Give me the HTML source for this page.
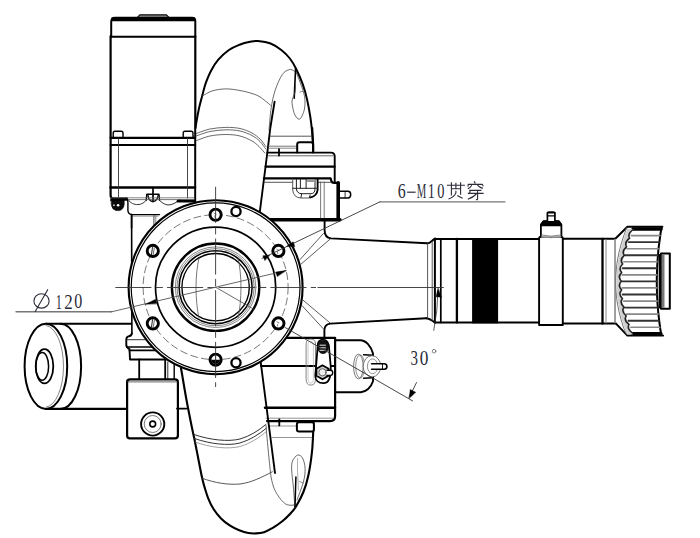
<!DOCTYPE html>
<html><head><meta charset="utf-8"><style>
html,body{margin:0;padding:0;background:#fff;}
svg{display:block;}
</style></head><body>
<svg width="700" height="538" viewBox="0 0 700 538" stroke-linecap="round" stroke-linejoin="round">
<rect width="700" height="538" fill="#fff"/>
<path d="M137,17.8 L139.8,14.9 L166.5,14.9 L169.3,17.8 Z" stroke="#000" stroke-width="1.1" fill="#9a9a9a" />
<path d="M111.2,37 L111.2,22 Q111.2,17.8 115,17.8 L192,17.8 Q195.3,17.8 195.3,21 L195.3,37" stroke="#000" stroke-width="2.0" fill="none" />
<line x1="111.5" y1="19.3" x2="195" y2="19.3" stroke="#000" stroke-width="3.8" stroke-linecap="butt"/>
<path d="M110.6,36 L110.6,195 Q110.6,198.4 113,198.4 L126.7,198.4" stroke="#000" stroke-width="2.2" fill="none" />
<line x1="195.3" y1="36" x2="195.3" y2="201.5" stroke="#000" stroke-width="2.2" />
<line x1="111" y1="36.8" x2="195" y2="36.8" stroke="#000" stroke-width="1.9" />
<path d="M113.2,137 L113.2,133 Q113.2,131.2 115,131.2 L121.2,131.2 Q123,131.2 123,133 L123,137" stroke="#000" stroke-width="1.4" fill="#fff" />
<path d="M183.2,137 L183.2,133 Q183.2,131.2 185,131.2 L191.2,131.2 Q193,131.2 193,133 L193,137" stroke="#000" stroke-width="1.4" fill="#fff" />
<line x1="110.6" y1="137.8" x2="195.3" y2="137.8" stroke="#000" stroke-width="2.3" />
<line x1="110.6" y1="145" x2="195.3" y2="145" stroke="#000" stroke-width="2.0" />
<line x1="110.6" y1="187.5" x2="195.3" y2="187.5" stroke="#000" stroke-width="2.7" />
<line x1="118.5" y1="138" x2="118.5" y2="198" stroke="#333" stroke-width="0.9" />
<line x1="187.5" y1="138" x2="187.5" y2="198" stroke="#333" stroke-width="0.9" />
<line x1="153" y1="187.5" x2="153" y2="201.4" stroke="#000" stroke-width="1.7" />
<path d="M146.2,200.3 L146.8,194.3 L159,194.3 L159.5,200.3" stroke="#000" stroke-width="1.4" fill="none" />
<path d="M147.9,195.2 C148.5,199.5 150.5,201.6 153,201.6 C155.5,201.6 157.5,199.5 158.2,195.2" stroke="#000" stroke-width="1.3" fill="none" />
<path d="M127.9,199.5 C131,203.5 134,204.6 138,204.6 C141.5,204.5 144.5,202.5 146.2,200.3" stroke="#333" stroke-width="1.0" fill="none" />
<path d="M159.5,200.3 C161.5,202.5 164.5,204.6 168,205 C172,205 176,203 180,199.5" stroke="#333" stroke-width="1.0" fill="none" />
<line x1="111" y1="197.8" x2="194" y2="197.8" stroke="#666" stroke-width="0.8" />
<line x1="127" y1="199.6" x2="194" y2="199.6" stroke="#555" stroke-width="0.8" />
<path d="M126.7,198.4 Q127.9,199.5 127.9,202.3 L127.9,210.7 Q128.5,214.4 131.6,214.6 L159.5,214.6" stroke="#000" stroke-width="1.4" fill="none" />
<line x1="131.6" y1="214.6" x2="131.6" y2="228" stroke="#000" stroke-width="1.6" />
<line x1="153.9" y1="215.3" x2="153.9" y2="226" stroke="#333" stroke-width="0.9" />
<line x1="155.8" y1="215.5" x2="155.8" y2="224" stroke="#666" stroke-width="0.8" />
<line x1="132" y1="216.2" x2="158" y2="216.2" stroke="#777" stroke-width="0.7" />
<path d="M178,201.2 L195.3,201.2" stroke="#000" stroke-width="2.8" fill="none" />
<path d="M111.2,199.6 L124.2,199.6 L124.2,204.5 Q123.5,209.6 119.5,210.6 L116,210.6 Q112,209.6 111.4,205 Z" stroke="#000" stroke-width="0.6" fill="#0a0a0a" />
<circle cx="113.9" cy="205.3" r="1.0" stroke="#000" stroke-width="0" fill="#bbb" />
<circle cx="118.1" cy="205.3" r="1.3" stroke="#000" stroke-width="0" fill="#fff" />
<line x1="111" y1="199.9" x2="126.5" y2="199.9" stroke="#000" stroke-width="1.8" />
<path d="M196.5,205.0 C196.5,192.2 196.6,141.6 196.5,128.0 C196.4,114.4 195.8,126.5 196.2,123.4 C196.6,120.3 197.8,113.9 198.8,109.2 C199.8,104.5 201.2,99.5 202.4,95.1 C203.6,90.7 204.4,86.8 205.9,82.7 C207.4,78.6 209.1,74.2 211.2,70.4 C213.3,66.6 215.4,63.1 218.3,59.7 C221.2,56.3 225.4,52.5 228.9,50.0 C232.4,47.5 236.0,46.1 239.5,44.7 C243.0,43.3 247.0,42.3 250.1,41.7 C253.2,41.1 254.4,40.7 257.8,41.0 C261.2,41.3 266.7,42.0 270.6,43.5 C274.5,45.0 278.1,47.5 281.3,50.0 C284.5,52.5 287.4,55.3 289.9,58.5 C292.4,61.7 294.2,64.9 296.3,69.2 C298.4,73.5 300.9,79.1 302.7,84.1 C304.5,89.1 305.8,93.8 307.0,99.1 C308.2,104.4 309.3,110.5 310.2,116.2 C311.1,121.9 311.8,128.7 312.3,133.3 C312.8,137.9 313.0,140.9 313.2,144.0 C313.4,147.1 313.3,150.7 313.3,152.0 L260,212 Z" stroke="#000" stroke-width="0" fill="#fff" />
<path d="M195.6,128.0 C195.7,127.2 195.7,126.5 196.2,123.4 C196.7,120.3 197.8,113.9 198.8,109.2 C199.8,104.5 201.2,99.5 202.4,95.1 C203.6,90.7 204.4,86.8 205.9,82.7 C207.4,78.6 209.1,74.2 211.2,70.4 C213.3,66.6 215.4,63.1 218.3,59.7 C221.2,56.3 225.4,52.5 228.9,50.0 C232.4,47.5 236.0,46.1 239.5,44.7 C243.0,43.3 247.0,42.3 250.1,41.7 C253.2,41.1 254.4,40.7 257.8,41.0 C261.2,41.3 266.7,42.0 270.6,43.5 C274.5,45.0 278.1,47.5 281.3,50.0 C284.5,52.5 287.4,55.3 289.9,58.5 C292.4,61.7 294.2,64.9 296.3,69.2 C298.4,73.5 300.9,79.1 302.7,84.1 C304.5,89.1 305.8,93.8 307.0,99.1 C308.2,104.4 309.3,110.5 310.2,116.2 C311.1,121.9 311.8,128.7 312.3,133.3 C312.8,137.9 313.0,140.9 313.2,144.0 C313.4,147.1 313.3,150.7 313.3,152.0" stroke="#000" stroke-width="2.0" fill="none" />
<path d="M259.8,212 L267.4,152 L270.3,128 L274.6,101.7" stroke="#000" stroke-width="1.9" fill="none" />
<path d="M269.0,130.0 C269.4,126.3 270.1,114.7 271.2,108.0 C272.2,101.3 273.4,95.5 275.3,89.9 C277.2,84.3 280.0,77.9 282.3,74.5 C284.6,71.1 287.3,70.2 289.3,69.6 C291.3,69.0 293.0,70.4 294.2,71.0 C295.4,71.6 296.1,72.7 296.5,73.0" stroke="#444" stroke-width="0.8" fill="none" />
<line x1="295.6" y1="68.2" x2="294.2" y2="98.2" stroke="#000" stroke-width="1.6" />
<path d="M296.5,73.0 C297.1,74.7 299.0,79.0 300.4,83.0 C301.8,87.0 303.9,92.6 304.6,96.8 C305.3,101.0 305.0,104.8 304.6,108.0 C304.2,111.2 302.9,114.1 302.0,116.0 C301.1,117.9 300.1,119.2 299.0,119.2 C297.9,119.2 296.4,117.4 295.5,116.0 C294.6,114.6 294.1,113.3 293.5,110.8 C292.9,108.3 291.8,104.0 292.0,101.0 C292.2,98.0 294.3,95.4 294.9,92.7 C295.5,90.0 295.4,86.3 295.5,85.0" stroke="#444" stroke-width="0.8" fill="none" />
<line x1="299.7" y1="92" x2="303.2" y2="91.3" stroke="#666" stroke-width="0.7" />
<path d="M202.4,96.0 C204.0,95.2 208.2,92.2 212.0,91.0 C215.8,89.8 220.7,89.0 225.4,88.9 C230.1,88.8 235.6,89.7 240.0,90.5 C244.4,91.3 248.7,92.4 252.0,93.5 C255.3,94.6 256.9,95.0 260.0,96.9 C263.1,98.9 268.8,103.8 270.5,105.2" stroke="#444" stroke-width="0.8" fill="none" />
<path d="M196.2,133.5 C198.5,132.8 205.1,130.0 210.0,129.0 C214.9,128.0 220.9,127.5 225.9,127.4 C230.9,127.3 235.7,127.6 240.0,128.5 C244.3,129.4 248.7,131.2 252.0,133.0 C255.3,134.8 257.7,136.8 260.0,139.0 C262.3,141.2 264.8,145.2 265.8,146.5" stroke="#444" stroke-width="0.8" fill="none" />
<path d="M196.2,136.0 C198.5,135.2 205.1,132.5 210.0,131.5 C214.9,130.5 220.9,129.9 225.9,129.8 C230.9,129.7 235.7,130.1 240.0,131.0 C244.3,131.9 248.7,133.8 252.0,135.5 C255.3,137.2 257.7,139.2 260.0,141.5 C262.3,143.8 264.8,147.8 265.8,149.0" stroke="#444" stroke-width="0.8" fill="none" />
<path d="M196.2,140.7 C198.5,139.9 205.1,137.0 210.0,136.0 C214.9,135.0 220.9,134.5 225.9,134.5 C230.9,134.5 235.7,134.9 240.0,136.0 C244.3,137.1 248.8,139.2 252.0,141.0 C255.2,142.8 256.9,144.5 259.0,146.5 C261.1,148.5 263.8,151.9 264.8,153.0" stroke="#444" stroke-width="0.8" fill="none" />
<line x1="312.3" y1="128" x2="313" y2="152" stroke="#000" stroke-width="2.0" />
<line x1="270.5" y1="136.2" x2="311.5" y2="136.2" stroke="#444" stroke-width="0.9" />
<line x1="268.5" y1="146.2" x2="297" y2="146.2" stroke="#555" stroke-width="0.8" />
<line x1="268.5" y1="148.2" x2="297" y2="148.2" stroke="#666" stroke-width="0.8" />
<path d="M297.2,152.6 L297.2,144.5 Q297.2,142.2 299.5,142.2 L310.8,142.2 Q313,142.2 313,144.5 L313,152.6" stroke="#000" stroke-width="2.0" fill="#fff" />
<path d="M267.4,152.6 L331,152.6 Q334.7,152.6 334.7,156.5 L334.7,182.8" stroke="#000" stroke-width="1.9" fill="none" />
<line x1="268" y1="155.8" x2="333" y2="155.8" stroke="#444" stroke-width="0.8" />
<line x1="279" y1="149.2" x2="279" y2="155.5" stroke="#000" stroke-width="1.8" />
<line x1="265.6" y1="166.6" x2="334.7" y2="166.6" stroke="#000" stroke-width="2.2" />
<path d="M263.9,178.4 L330.6,178.4 L331.5,181.5 Q332,182.8 334,182.8 L337,182.8" stroke="#000" stroke-width="2.2" fill="none" />
<line x1="338.2" y1="182.8" x2="338.2" y2="219.1" stroke="#000" stroke-width="3.6" />
<line x1="266" y1="219.8" x2="340" y2="219.8" stroke="#000" stroke-width="3.4" />
<line x1="264.5" y1="182.3" x2="292.7" y2="182.3" stroke="#444" stroke-width="0.9" />
<line x1="317.6" y1="182.3" x2="331" y2="182.3" stroke="#444" stroke-width="0.9" />
<path d="M292.7,179 L292.7,190 Q293.5,197.8 301,198 L309,198 Q316.5,197.5 317.6,190 L317.6,179" stroke="#555" stroke-width="1.0" fill="none" />
<path d="M317.6,179 L317.6,190 Q317,196 310.5,197.3" stroke="#000" stroke-width="1.8" fill="none" />
<path d="M296.4,179.5 L296.4,189 Q297,193.7 302,193.7 L311,193.7 Q315,193.5 315,189 L315,179.5" stroke="#222" stroke-width="1.0" fill="none" />
<line x1="292.7" y1="188.3" x2="317.6" y2="188.3" stroke="#222" stroke-width="1.0" />
<line x1="300.4" y1="179" x2="300.4" y2="188.3" stroke="#222" stroke-width="1.0" />
<line x1="306.1" y1="179" x2="306.1" y2="188.3" stroke="#222" stroke-width="1.0" />
<line x1="301.6" y1="194" x2="301" y2="197.4" stroke="#222" stroke-width="1.0" />
<line x1="310.1" y1="195.1" x2="309.4" y2="197.6" stroke="#222" stroke-width="1.0" />
<rect x="307" y="179.5" width="8" height="2.5" rx="0" stroke="#000" stroke-width="0" fill="#999" />
<line x1="320.6" y1="182" x2="320.6" y2="218" stroke="#555" stroke-width="0.8" />
<line x1="324.2" y1="182" x2="324.2" y2="218" stroke="#555" stroke-width="0.8" />
<path d="M340.1,191.2 L348,191.2 Q350.7,191.2 350.7,194.5 Q350.7,197.9 348,197.9 L340.1,197.9" stroke="#000" stroke-width="1.5" fill="#fff" />
<line x1="345.1" y1="191.5" x2="345.1" y2="197.6" stroke="#000" stroke-width="0.8" />
<path d="M324.6,219.5 L324.6,230 C324.6,235 327,238 331,238.4 L427,243.2" stroke="#000" stroke-width="1.9" fill="none" />
<path d="M324.4,337 L324.4,330.3 C324.4,326 326,324 330.5,323.6 L426.3,318.3" stroke="#000" stroke-width="1.9" fill="none" />
<line x1="323.5" y1="233.4" x2="300" y2="259.6" stroke="#333" stroke-width="0.8" />
<line x1="330.2" y1="239" x2="301.2" y2="264" stroke="#333" stroke-width="0.8" />
<line x1="303" y1="300.1" x2="330" y2="322.9" stroke="#333" stroke-width="0.8" />
<line x1="302.1" y1="305.7" x2="323.9" y2="329.4" stroke="#333" stroke-width="0.8" />
<path d="M427.4,243.4 C430.5,243.2 432,240 435.3,238.4" stroke="#000" stroke-width="1.9" fill="none" />
<path d="M426.3,318.3 C430.5,318.5 432,321 435.3,322.6" stroke="#000" stroke-width="1.9" fill="none" />
<line x1="427.6" y1="243.5" x2="427.6" y2="318.2" stroke="#444" stroke-width="0.9" />
<line x1="432.2" y1="241.5" x2="432.2" y2="320.5" stroke="#444" stroke-width="0.9" />
<path d="M434.9,322.4 L434.9,238.9 L539,238.9" stroke="#000" stroke-width="2.0" fill="none" />
<line x1="434.9" y1="322.4" x2="539" y2="322.4" stroke="#000" stroke-width="2.0" />
<line x1="440.8" y1="239" x2="440.8" y2="322.4" stroke="#000" stroke-width="1.7" />
<line x1="456.9" y1="239" x2="456.9" y2="322.4" stroke="#000" stroke-width="2.3" />
<rect x="472.1" y="238" width="26" height="85.3" rx="0" stroke="#000" stroke-width="0" fill="#000" />
<path d="M539.1,325 L539.1,238.4 Q539.1,236.6 541,236.6 L560.8,236.6 Q562.8,236.6 562.8,238.6 L562.8,325 Z" stroke="#000" stroke-width="1.9" fill="#fff" />
<path d="M540.9,236.8 L540.9,224.5 L543.4,221.2 L558.9,221.2 L561.4,224.5 L561.4,236.8" stroke="#000" stroke-width="1.8" fill="#fff" />
<path d="M541.2,225.6 L541.2,224.3 L543.6,221.2 L558.7,221.2 L561.1,224.3 L561.1,225.6 Z" stroke="#000" stroke-width="1.2" fill="#000" />
<path d="M541.5,235 Q551,237.5 561,235" stroke="#666" stroke-width="0.8" fill="none" />
<path d="M541.5,236.6 Q551,239 561,236.6" stroke="#888" stroke-width="0.8" fill="none" />
<path d="M547.4,221 L547.4,213.5 Q547.4,212 549,212 L553.3,212 Q554.9,212 554.9,213.5 L554.9,221" stroke="#000" stroke-width="1.7" fill="#fff" />
<line x1="547.4" y1="212.8" x2="554.9" y2="212.8" stroke="#000" stroke-width="1.6" />
<line x1="547.4" y1="215.8" x2="554.9" y2="215.8" stroke="#000" stroke-width="1.3" />
<path d="M562.8,238.8 L615.3,238.8 M562.8,323.6 L615.3,323.6" stroke="#000" stroke-width="2.0" fill="none" />
<line x1="602.5" y1="239" x2="602.5" y2="323.6" stroke="#000" stroke-width="2.3" />
<line x1="606" y1="239.5" x2="606" y2="323" stroke="#888" stroke-width="1.0" />
<line x1="615" y1="239.5" x2="615" y2="323" stroke="#999" stroke-width="1.5" />
<path d="M615.3,238.7 L627.4,226.7 L662.4,226.7 L661.6,227.0 L661.1,230.0 L660.6,233.0 L660.2,236.0 L659.8,239.0 L659.4,242.0 L659.0,245.0 L658.6,248.0 L658.3,251.0 L658.1,254.0 L657.8,257.0 L657.6,260.0 L657.4,263.0 L657.2,266.0 L657.1,269.0 L657.0,272.0 L656.9,275.0 L656.8,278.0 L656.8,281.0 L656.8,284.0 L656.8,287.0 L656.9,290.0 L657.0,293.0 L657.1,296.0 L657.3,299.0 L657.4,302.0 L657.6,305.0 L657.9,308.0 L658.1,311.0 L658.4,314.0 L658.8,317.0 L659.1,320.0 L659.5,323.0 L659.9,326.0 L660.3,329.0 L660.8,332.0 L661.3,335.0 L663,335.6 L627.4,335.6 L615.3,322.9 Z" stroke="#000" stroke-width="0" fill="#fff" />
<path d="M615.3,238.7 L627.4,226.7 L662.4,226.7 L661.6,227.0 L661.1,230.0 L660.6,233.0 L660.2,236.0 L659.8,239.0 L659.4,242.0 L659.0,245.0 L658.6,248.0 L658.3,251.0 L658.1,254.0 L657.8,257.0 L657.6,260.0 L657.4,263.0 L657.2,266.0 L657.1,269.0 L657.0,272.0 L656.9,275.0 L656.8,278.0 L656.8,281.0 L656.8,284.0 L656.8,287.0 L656.9,290.0 L657.0,293.0 L657.1,296.0 L657.3,299.0 L657.4,302.0 L657.6,305.0 L657.9,308.0 L658.1,311.0 L658.4,314.0 L658.8,317.0 L659.1,320.0 L659.5,323.0 L659.9,326.0 L660.3,329.0 L660.8,332.0 L661.3,335.0 L663,335.6 L627.4,335.6 L615.3,322.9" stroke="#000" stroke-width="2.0" fill="none" />
<line x1="615.2" y1="239.5" x2="615.2" y2="322.5" stroke="#999" stroke-width="1.5" />
<path d="M626.5,228 L625.2,232.0 L623.7,236.0 L622.4,240.0 L621.2,244.0 L620.1,248.0 L619.1,252.0 L618.3,256.0 L617.5,260.0 L616.9,264.0 L616.4,268.0 L616.1,272.0 L615.8,276.0 L615.7,280.0 L615.7,284.0 L615.8,288.0 L616.1,292.0 L616.4,296.0 L616.9,300.0 L617.5,304.0 L618.3,308.0 L619.1,312.0 L620.1,316.0 L621.2,320.0 L622.4,324.0 L623.7,328.0 L626.5,334" stroke="#777" stroke-width="1.0" fill="none" />
<line x1="633.1" y1="229.0" x2="661.0" y2="229.0" stroke="#000" stroke-width="3.6" />
<line x1="631.3" y1="235.6" x2="660.0" y2="235.6" stroke="#888" stroke-width="1.6" />
<line x1="628.8" y1="242.1" x2="659.0" y2="242.1" stroke="#333" stroke-width="1.9" />
<line x1="626.8" y1="248.7" x2="658.3" y2="248.7" stroke="#888" stroke-width="1.6" />
<line x1="625.1" y1="255.2" x2="657.6" y2="255.2" stroke="#333" stroke-width="1.9" />
<line x1="623.8" y1="261.8" x2="657.2" y2="261.8" stroke="#888" stroke-width="1.6" />
<line x1="622.8" y1="268.3" x2="656.8" y2="268.3" stroke="#333" stroke-width="1.9" />
<line x1="622.2" y1="274.9" x2="656.6" y2="274.9" stroke="#888" stroke-width="1.6" />
<line x1="622.0" y1="281.4" x2="656.5" y2="281.4" stroke="#333" stroke-width="1.9" />
<line x1="622.2" y1="287.9" x2="656.6" y2="287.9" stroke="#888" stroke-width="1.6" />
<line x1="622.7" y1="294.5" x2="656.8" y2="294.5" stroke="#333" stroke-width="1.9" />
<line x1="623.6" y1="301.1" x2="657.1" y2="301.1" stroke="#888" stroke-width="1.6" />
<line x1="624.8" y1="307.6" x2="657.5" y2="307.6" stroke="#333" stroke-width="1.9" />
<line x1="626.4" y1="314.1" x2="658.2" y2="314.1" stroke="#888" stroke-width="1.6" />
<line x1="628.4" y1="320.7" x2="658.9" y2="320.7" stroke="#333" stroke-width="1.9" />
<line x1="630.8" y1="327.2" x2="659.8" y2="327.2" stroke="#888" stroke-width="1.6" />
<line x1="632.5" y1="333.8" x2="660.8" y2="333.8" stroke="#000" stroke-width="3.6" />
<path d="M627.2,229.0 L626.0,232.0 L624.9,235.0 L623.9,238.0 L622.9,241.0 L622.0,244.0 L621.2,247.0 L620.4,250.0 L619.7,253.0 L619.1,256.0 L618.5,259.0 L618.0,262.0 L617.6,265.0 L617.2,268.0 L617.0,271.0 L616.7,274.0 L616.6,277.0 L616.5,280.0 L616.5,283.0 L616.6,286.0 L616.7,289.0 L616.9,292.0 L617.1,295.0 L617.5,298.0 L617.9,301.0 L618.3,304.0 L618.9,307.0 L619.5,310.0 L620.2,313.0 L620.9,316.0 L621.7,319.0 L622.6,322.0 L623.5,325.0 L624.5,328.0 L625.6,331.0 L626.8,334.0 L627.0,334.5 L632.9,334.5 L632.6,334.0 L631.3,331.0 L630.1,328.0 L629.0,325.0 L627.9,322.0 L626.9,319.0 L626.0,316.0 L625.1,313.0 L624.4,310.0 L623.7,307.0 L623.1,304.0 L622.6,301.0 L622.1,298.0 L621.7,295.0 L621.4,292.0 L621.2,289.0 L621.1,286.0 L621.0,283.0 L621.0,280.0 L621.1,277.0 L621.3,274.0 L621.5,271.0 L621.8,268.0 L622.2,265.0 L622.7,262.0 L623.3,259.0 L623.9,256.0 L624.6,253.0 L625.4,250.0 L626.3,247.0 L627.2,244.0 L628.2,241.0 L629.3,238.0 L630.5,235.0 L631.8,232.0 L633.1,229.0 Z" stroke="#000" stroke-width="0" fill="#cfcfcf" />
<path d="M633.2,229.5 Q627.1,233.8 629.6,238.1 M629.6,238.1 Q623.8,242.4 626.6,246.8 M626.6,246.8 Q621.2,251.1 624.3,255.4 M624.3,255.4 Q619.2,259.7 622.7,264.0 M622.7,264.0 Q617.9,268.3 621.7,272.6 M621.7,272.6 Q617.2,276.9 621.3,281.2 M621.3,281.2 Q617.2,285.6 621.6,289.9 M621.6,289.9 Q617.7,294.2 622.5,298.5 M622.5,298.5 Q619.0,302.8 624.0,307.1 M624.0,307.1 Q620.8,311.4 626.2,315.8 M626.2,315.8 Q623.3,320.1 629.0,324.4 M629.0,324.4 Q626.5,328.7 632.5,333.0" stroke="#222" stroke-width="1.5" fill="none" />
<rect x="661" y="253.5" width="8.8" height="55.3" rx="0" stroke="#000" stroke-width="2.0" fill="#fff" />
<rect x="661.5" y="254.5" width="3" height="53.3" rx="0" stroke="#000" stroke-width="0" fill="#777" />
<line x1="659.8" y1="255" x2="659.8" y2="307.5" stroke="#000" stroke-width="2.2" />
<line x1="45.9" y1="323.8" x2="131" y2="323.8" stroke="#000" stroke-width="2.1" />
<line x1="45.9" y1="408.9" x2="128" y2="408.9" stroke="#000" stroke-width="2.1" />
<path d="M60.5,323.8 A20.6,42.6 0 0 1 60.5,409" stroke="#000" stroke-width="2.0" fill="none" />
<ellipse cx="45.9" cy="366.3" rx="21.3" ry="42.6" stroke="#000" stroke-width="2.0" fill="#fff" />
<path d="M46,325.5 A18.4,40.9 0 0 1 46,407.2" stroke="#666" stroke-width="0.8" fill="none" />
<ellipse cx="44.5" cy="366.3" rx="8.8" ry="17.1" stroke="#000" stroke-width="1.8" fill="none" />
<ellipse cx="42.2" cy="366.4" rx="6.4" ry="13.8" stroke="#000" stroke-width="1.5" fill="none" />
<line x1="131.6" y1="214.6" x2="131.9" y2="334" stroke="#000" stroke-width="1.6" />
<path d="M131.9,333.5 Q131.5,335.8 128.5,336.4 Q126.3,337 126.3,340 L126.3,345 Q126.3,347.6 129.5,349.2 L130,359.5 L166,359.5" stroke="#000" stroke-width="1.9" fill="#fff" />
<line x1="127.5" y1="339.7" x2="165" y2="339.7" stroke="#333" stroke-width="1.0" />
<line x1="127.5" y1="347" x2="165" y2="347" stroke="#000" stroke-width="1.4" />
<line x1="129.5" y1="350.4" x2="165" y2="350.4" stroke="#000" stroke-width="1.8" />
<line x1="139.2" y1="359.5" x2="139.2" y2="379" stroke="#000" stroke-width="1.8" />
<line x1="165.2" y1="359.5" x2="165.2" y2="379" stroke="#000" stroke-width="1.8" />
<line x1="167.8" y1="362" x2="167.8" y2="379" stroke="#333" stroke-width="1.0" />
<line x1="174.2" y1="362" x2="174.2" y2="379" stroke="#000" stroke-width="1.4" />
<path d="M127.1,382 Q127.1,379.4 130,379.4 L175,379.4 Q177.9,379.4 177.9,382 L177.9,435.5 Q177.9,438.4 175,438.4 L130,438.4 Q127.1,438.4 127.1,435.5 Z" stroke="#000" stroke-width="2.2" fill="#fff" />
<line x1="128" y1="381.9" x2="177" y2="381.9" stroke="#555" stroke-width="0.9" />
<circle cx="152.7" cy="424" r="11.6" stroke="#000" stroke-width="1.9" fill="none" />
<circle cx="152.7" cy="424" r="8.5" stroke="#555" stroke-width="0.8" fill="none" />
<circle cx="152.7" cy="424" r="2.9" stroke="#000" stroke-width="1.6" fill="none" />
<line x1="177" y1="408.6" x2="186.4" y2="408.6" stroke="#000" stroke-width="1.8" />
<path d="M181.0,368.0 C181.9,373.3 184.8,390.8 186.5,400.0 C188.2,409.2 189.7,416.3 191.0,423.0 C192.3,429.7 193.4,434.1 194.6,440.0 C195.8,445.9 197.0,452.1 198.2,458.2 C199.4,464.3 200.7,471.6 201.8,476.5 C202.9,481.4 203.5,483.8 204.6,487.4 C205.7,491.0 206.7,494.6 208.2,498.3 C209.7,502.0 211.6,506.0 213.7,509.3 C215.8,512.6 218.3,515.7 221.0,518.4 C223.7,521.1 227.1,523.7 230.1,525.7 C233.1,527.7 236.2,529.0 239.2,530.2 C242.2,531.4 245.5,532.5 248.3,533.0 C251.1,533.5 253.4,533.5 256.0,533.4 C258.6,533.3 261.3,533.1 264.0,532.2 C266.7,531.4 268.9,530.1 272.0,528.3 C275.1,526.5 279.3,523.6 282.3,521.2 C285.3,518.8 287.7,516.5 290.0,514.0 C292.3,511.6 293.8,510.2 296.0,506.5 C298.2,502.8 301.3,497.2 303.4,492.0 C305.5,486.8 307.0,481.6 308.4,475.2 C309.8,468.8 311.1,459.6 311.8,453.5 C312.6,447.4 312.6,443.6 312.9,438.5 C313.2,433.4 313.4,425.6 313.5,423.0" stroke="#000" stroke-width="2.1" fill="#fff" />
<path d="M266,425.6 C268,450 270,468 271,477 C273,487 275,491 277.6,494.9 C280,499 283,502 285.3,503.8 C288,505.5 291,505.5 294.2,505" stroke="#444" stroke-width="0.8" fill="none" />
<path d="M194.2,434.6 C210,440 228,442 240,439 C250,436 258,431 266,424.4" stroke="#333" stroke-width="1.0" fill="none" />
<path d="M194.5,438.5 C210,444 228,446 240,443 C250,440 258,435 266.3,428.3" stroke="#333" stroke-width="1.0" fill="none" />
<path d="M195,442 C210,447.5 228,449.5 240,446.5 C250,443.5 258,438.5 266.5,431.5" stroke="#777" stroke-width="0.7" fill="none" />
<path d="M202,478.2 C215,483 228,485 240,484 C252,482.5 262,477 272.4,471.8" stroke="#444" stroke-width="0.9" fill="none" />
<path d="M295.0,508.0 C294.7,504.5 293.9,493.3 293.4,487.0 C292.8,480.7 291.8,474.3 291.7,470.0 C291.6,465.7 291.5,463.5 292.5,461.0 C293.5,458.5 295.9,455.6 297.6,455.1 C299.3,454.6 301.2,455.8 302.5,458.0 C303.8,460.2 305.0,464.5 305.1,468.5 C305.2,472.5 304.8,476.8 303.4,482.0 C302.0,487.2 298.1,497.0 297.0,500.0" stroke="#444" stroke-width="0.8" fill="none" />
<path d="M297.6,458.5 C297.6,460.4 297.4,466.4 297.5,470.0 C297.6,473.6 297.9,476.7 298.0,480.0 C298.1,483.3 298.3,488.3 298.4,490.0" stroke="#777" stroke-width="0.6" fill="none" />
<line x1="295.9" y1="477" x2="295" y2="507" stroke="#000" stroke-width="1.5" />
<line x1="299.5" y1="481.5" x2="303" y2="483" stroke="#666" stroke-width="0.7" />
<path d="M335,340.2 L360.2,340.2 C366,340.2 371,346 373,353.5 L373,381.3 C371,387.5 366,392.2 360.8,392.2 L335,392.2" stroke="#000" stroke-width="1.9" fill="#fff" />
<path d="M364,354.7 L372.9,355.3 L372.9,377.7 L364,378.3 Z" stroke="#000" stroke-width="0" fill="#fff" />
<ellipse cx="358.4" cy="366.5" rx="4.8" ry="12.4" stroke="#555" stroke-width="0.8" fill="#fff" />
<ellipse cx="360.2" cy="366.5" rx="4.5" ry="11.6" stroke="#777" stroke-width="0.8" fill="none" />
<line x1="363.6" y1="354.7" x2="372.9" y2="355.3" stroke="#000" stroke-width="1.6" />
<line x1="363.6" y1="378.3" x2="372.9" y2="377.7" stroke="#000" stroke-width="1.6" />
<ellipse cx="372" cy="366.3" rx="8.8" ry="10.6" stroke="#666" stroke-width="0.9" fill="#fff" />
<ellipse cx="372.6" cy="366.3" rx="5.2" ry="7.4" stroke="#777" stroke-width="0.8" fill="#fff" />
<path d="M371.6,363.8 L384.2,363.8 A2.7,2.7 0 0 1 384.2,369.2 L371.6,369.2" stroke="#000" stroke-width="1.6" fill="#fff" />
<line x1="382.5" y1="364" x2="382.5" y2="369" stroke="#000" stroke-width="0.9" />
<path d="M262,337.8 L335.1,337.8 L335.1,416 Q335.1,421.1 330,421.1 L267,421.1" stroke="#000" stroke-width="2.2" fill="#fff" />
<line x1="261" y1="366" x2="335" y2="366" stroke="#000" stroke-width="2.2" />
<line x1="265" y1="407.8" x2="335" y2="407.8" stroke="#000" stroke-width="2.4" />
<line x1="266" y1="418.2" x2="333" y2="418.2" stroke="#777" stroke-width="0.8" />
<line x1="269" y1="426" x2="296" y2="426" stroke="#777" stroke-width="0.8" />
<line x1="272" y1="437.5" x2="312" y2="437.5" stroke="#666" stroke-width="0.7" />
<line x1="279.3" y1="419.3" x2="279.3" y2="425.4" stroke="#000" stroke-width="1.8" />
<path d="M299,422.3 L311.9,422.3 Q313.9,422.3 313.9,424.3 L313.9,429.4 Q313.9,431.4 311.9,431.4 L298.9,431.4 Q296.9,431.4 296.9,429.4 L296.9,424.3 Q296.9,422.3 299,422.3 Z" stroke="#000" stroke-width="2.0" fill="#fff" />
<path d="M306.1,344 Q306.1,339.1 310.5,339.1 L311,339.1 Q315.5,339.1 315.5,344 L315.5,379 Q315.5,385.1 311,385.1 L310.5,385.1 Q306.1,385.1 306.1,379 Z" stroke="#777" stroke-width="0.9" fill="none" />
<path d="M308,345 Q308,341.3 310.6,341.3 Q313.4,341.3 313.4,345 L313.4,378.5 Q313.4,383 310.6,383 Q308,383 308,378.5 Z" stroke="#aaa" stroke-width="0.6" fill="none" />
<path d="M317.6,347 C317.2,342 319.8,339.6 323,339.6 C326.4,339.6 329,342 329.2,349.3 L330.7,366 C331.3,378 328.5,383.2 323.5,383.2 C318.2,383.2 315.3,380 315.3,375.9 Z" stroke="#000" stroke-width="1.8" fill="#fff" />
<ellipse cx="323" cy="347" rx="5.6" ry="6.9" stroke="#000" stroke-width="0" fill="#111" />
<line x1="320" y1="345.2" x2="325.5" y2="345.2" stroke="#fff" stroke-width="0.9" />
<line x1="320" y1="347.8" x2="325.5" y2="347.8" stroke="#fff" stroke-width="0.9" />
<line x1="320" y1="350.3" x2="325.5" y2="350.3" stroke="#fff" stroke-width="0.9" />
<path d="M322.5,365.3 L328.6,368.8 L328.6,375.8 L322.5,379.3 L316.4,375.8 L316.4,368.8 Z" stroke="#000" stroke-width="1.8" fill="#ccc" />
<circle cx="322.5" cy="372.3" r="3.6" stroke="#444" stroke-width="0.8" fill="#eee" />
<path d="M327,370.3 L330.5,370.3 Q332.7,370.3 332.7,372.85 Q332.7,375.4 330.5,375.4 L327,375.4" stroke="#000" stroke-width="1.4" fill="#fff" />
<circle cx="330" cy="372.85" r="1.0" stroke="#000" stroke-width="0" fill="#fff" />
<line x1="259.8" y1="355" x2="275" y2="473" stroke="#000" stroke-width="1.9" />
<circle cx="215.6" cy="287.2" r="87.0" stroke="#000" stroke-width="2.1" fill="#fff" />
<circle cx="215.6" cy="287.2" r="84.4" stroke="#000" stroke-width="1.2" fill="none" />
<circle cx="215.6" cy="287.2" r="72.5" stroke="#555" stroke-width="0.8" fill="none" stroke-dasharray="7,4"/>
<circle cx="215.6" cy="287.2" r="60.1" stroke="#000" stroke-width="1.7" fill="none" />
<circle cx="215.6" cy="287.2" r="43.7" stroke="#000" stroke-width="2.4" fill="none" />
<circle cx="215.6" cy="287.2" r="40.3" stroke="#666" stroke-width="0.8" fill="none" />
<circle cx="215.6" cy="287.2" r="38.6" stroke="#666" stroke-width="0.8" fill="none" />
<circle cx="215.6" cy="287.2" r="36.5" stroke="#000" stroke-width="1.5" fill="none" />
<circle cx="215.6" cy="287.2" r="33.7" stroke="#000" stroke-width="1.4" fill="none" />
<path d="M199,258 C195,275 195,300 199,318" stroke="#555" stroke-width="0.8" fill="none" />
<path d="M238,258 C242,275 242,300 238,318" stroke="#555" stroke-width="0.8" fill="none" />
<line x1="215.6" y1="287.2" x2="254.1" y2="309.4" stroke="#444" stroke-width="0.8" />
<circle cx="215.6" cy="214.7" r="5.6" stroke="#000" stroke-width="2.9" fill="#fff" />
<line x1="214.1" y1="213.2" x2="216.1" y2="214.2" stroke="#666" stroke-width="0.8" />
<line x1="214.79999999999998" y1="215.7" x2="214.79999999999998" y2="217.29999999999998" stroke="#666" stroke-width="0.8" />
<circle cx="278.4" cy="250.9" r="5.6" stroke="#000" stroke-width="2.9" fill="#fff" />
<line x1="276.9" y1="249.4" x2="278.9" y2="250.4" stroke="#666" stroke-width="0.8" />
<line x1="277.59999999999997" y1="251.9" x2="277.59999999999997" y2="253.5" stroke="#666" stroke-width="0.8" />
<circle cx="278.4" cy="323.4" r="5.6" stroke="#000" stroke-width="2.9" fill="#fff" />
<line x1="276.9" y1="321.9" x2="278.9" y2="322.9" stroke="#666" stroke-width="0.8" />
<line x1="277.59999999999997" y1="324.4" x2="277.59999999999997" y2="326.0" stroke="#666" stroke-width="0.8" />
<circle cx="215.6" cy="359.7" r="5.6" stroke="#000" stroke-width="2.9" fill="#fff" />
<path d="M211.29999999999998,359.7 A4.3,4.3 0 0 0 219.9,359.7 Z" stroke="#000" stroke-width="0" fill="#000" />
<line x1="215.6" y1="355.7" x2="215.6" y2="359.7" stroke="#555" stroke-width="0.8" />
<circle cx="152.8" cy="323.4" r="5.6" stroke="#000" stroke-width="2.9" fill="#fff" />
<line x1="152.5" y1="319.59999999999997" x2="151.5" y2="327.2" stroke="#222" stroke-width="1.0" />
<line x1="154.4" y1="320.2" x2="153.20000000000002" y2="327.0" stroke="#444" stroke-width="0.8" />
<circle cx="152.8" cy="250.9" r="5.6" stroke="#000" stroke-width="2.9" fill="#fff" />
<line x1="152.5" y1="247.1" x2="151.5" y2="254.70000000000002" stroke="#222" stroke-width="1.0" />
<line x1="154.4" y1="247.70000000000002" x2="153.20000000000002" y2="254.5" stroke="#444" stroke-width="0.8" />
<circle cx="236" cy="211.5" r="4.6" stroke="#000" stroke-width="2.3" fill="#fff" />
<circle cx="236" cy="362.7" r="4.6" stroke="#000" stroke-width="2.3" fill="#fff" />
<line x1="215.6" y1="186.8" x2="215.6" y2="387" stroke="#333" stroke-width="0.9" stroke-dasharray="36.1,4.3,7.2,4.1" stroke-linecap="butt"/>
<line x1="115.3" y1="287.5" x2="316" y2="287.5" stroke="#333" stroke-width="0.9" stroke-dasharray="36.1,4.3,7.2,4.1" stroke-linecap="butt"/>
<line x1="318" y1="287.5" x2="443.4" y2="287.5" stroke="#333" stroke-width="0.9" />
<line x1="16" y1="311.8" x2="111.6" y2="311.8" stroke="#777" stroke-width="1.4" />
<line x1="111.6" y1="311.8" x2="215.6" y2="287.2" stroke="#555" stroke-width="0.9" />
<line x1="215.6" y1="287.2" x2="286" y2="270.6" stroke="#555" stroke-width="0.9" />
<path d="M145.8,304.2 L155.5,299.2 L156.8,303.6 Z" stroke="#000" stroke-width="0.4" fill="#000" />
<path d="M286,270.6 L275.8,272.0 L277.2,276.4 Z" stroke="#000" stroke-width="0.4" fill="#000" />
<line x1="380" y1="201.8" x2="505" y2="201.8" stroke="#777" stroke-width="1.3" />
<line x1="380" y1="201.8" x2="262" y2="258.4" stroke="#333" stroke-width="0.9" />
<path d="M269.5,255.2 L262.8,255.8 L264.8,260.4 Z" stroke="#000" stroke-width="0.4" fill="#000" />
<path d="M286.8,246.2 L293.2,241.8 L294.8,246.4 Z" stroke="#000" stroke-width="0.4" fill="#000" />
<line x1="285" y1="327.4" x2="412.6" y2="400.9" stroke="#333" stroke-width="0.9" />
<path d="M438.0,290.3 A222.4,222.4 0 0 1 433.8,330.4" stroke="#333" stroke-width="0.8" fill="none"/>
<path d="M416.5,382.6 A222.4,222.4 0 0 1 409.0,397.1" stroke="#333" stroke-width="0.9" fill="none"/>
<path d="M409.2,398.2 L410.2,389.5 L415.6,392.2 Z" stroke="#000" stroke-width="0.4" fill="#000" />
<path d="M438.0,288.2 L436.0,296.8 L441.4,297.2 Z" stroke="#000" stroke-width="0.4" fill="#000" />
<text transform="translate(55.83,308.50) scale(0.568,1)" font-family="Liberation Serif" font-size="21.51" fill="#2b2b38">1</text>
<text transform="translate(64.35,308.50) scale(0.791,1)" font-family="Liberation Serif" font-size="21.45" fill="#2b2b38">2</text>
<text transform="translate(74.19,308.29) scale(0.762,1)" font-family="Liberation Serif" font-size="21.04" fill="#2b2b38">0</text>
<ellipse cx="41.5" cy="300.9" rx="7.6" ry="7.2" stroke="#2b2b38" stroke-width="1.1" fill="none" />
<line x1="35.2" y1="311.5" x2="47.7" y2="289.7" stroke="#2b2b38" stroke-width="1.1" />
<text transform="translate(397.82,197.80) scale(0.786,1)" font-family="Liberation Serif" font-size="20.24" fill="#2b2b38">6</text>
<text transform="translate(416.79,198.00) scale(0.516,1)" font-family="Liberation Serif" font-size="20.77" fill="#2b2b38">M</text>
<text transform="translate(427.65,198.00) scale(0.689,1)" font-family="Liberation Serif" font-size="20.60" fill="#2b2b38">1</text>
<text transform="translate(437.25,197.80) scale(0.714,1)" font-family="Liberation Serif" font-size="20.15" fill="#2b2b38">0</text>
<line x1="407.1" y1="192.2" x2="415.6" y2="192.2" stroke="#2b2b38" stroke-width="1.2" stroke-linecap="butt"/>
<text transform="translate(410.48,364.50) scale(0.736,1)" font-family="Liberation Serif" font-size="20.39" fill="#2b2b38">3</text>
<text transform="translate(419.64,364.50) scale(0.848,1)" font-family="Liberation Serif" font-size="20.30" fill="#2b2b38">0</text>
<circle cx="434.1" cy="351.2" r="1.8" stroke="#666" stroke-width="0.8" fill="none" />
<path d="M446.9,185.3 L464.9,185.3 M451.4,182.2 L451.4,195.5 M460.6,182.2 L460.6,194.7 M455.9,182.8 L455.9,188.2 M451.4,188.8 L460.6,188.8 M455.9,190.8 L455.9,193.6 M455.9,192.6 Q454.5,197 448.5,198.9 M457.3,195.4 Q460,196.8 462.6,198.3" stroke="#2b2b38" stroke-width="1.1" fill="none" stroke-linecap="butt"/>
<path d="M474,181.4 L475.4,183.4 M468,186.6 L468.2,184.4 L482.4,184.4 L483.2,186.4 M471.8,185.2 Q470.5,187.5 467.8,188.8 M477.4,185.2 Q479.5,187.5 482.8,188.4 M469.2,190.4 L481.4,190.4 M477.6,190.4 L477.6,199 Q477.4,200 476,199.4 M470.2,190.6 L469.6,193.4 M467.8,193.4 L483.6,193.4 M476.4,194 Q473,197.5 467.8,199.2" stroke="#2b2b38" stroke-width="1.1" fill="none" stroke-linecap="butt"/>
</svg>
</body></html>
